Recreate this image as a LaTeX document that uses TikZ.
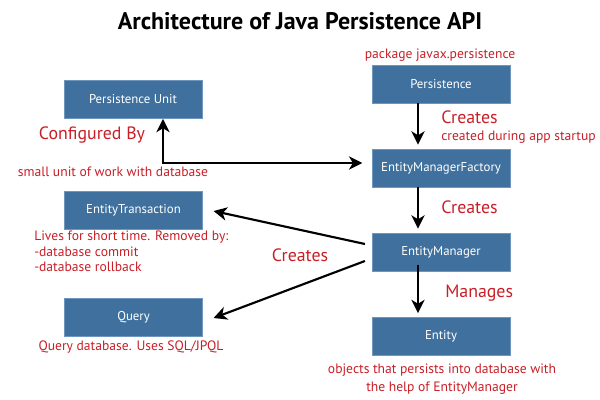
\documentclass[tikz,border=0pt]{standalone}
\usepackage{fontspec}
\setmainfont{PT Sans}
\usetikzlibrary{arrows.meta}
\definecolor{boxblue}{RGB}{64,113,158}
\definecolor{boxedge}{RGB}{110,150,190}
\definecolor{redtxt}{RGB}{200,30,38}
\tikzset{
  bluebox/.style={draw=boxedge, line width=0.6pt, fill=boxblue, text=white, minimum width=103.5pt, minimum height=28.5pt, inner sep=0pt, font=\fontsize{9.6}{11}\selectfont},
  redlbl/.style={text=redtxt, inner sep=0pt, font=\fontsize{10.2}{12}\selectfont},
  biglbl/.style={text=redtxt, inner sep=0pt, font=\fontsize{13.4}{15}\selectfont},
  arr/.style={line width=1.6pt, -{Stealth[length=10pt,width=10pt,inset=3pt]}},
  dblarr/.style={line width=1.6pt, {Stealth[length=10pt,width=10pt,inset=3pt]}-{Stealth[length=10pt,width=10pt,inset=3pt]}}
}
\begin{document}
\begin{tikzpicture}[x=0.75pt,y=-0.75pt]
\useasboundingbox (0,0) rectangle (600,400);
\node[font=\fontsize{18}{20}\selectfont\bfseries] (title) at (300,21) {Architecture of Java Persistence API};

\node[bluebox] (pu) at (133,99.5) {Persistence Unit};
\node[bluebox] (p) at (441,84) {Persistence};
\node[bluebox] (emf) at (441,168) {EntityManagerFactory};
\node[bluebox] (et) at (133.5,210) {EntityTransaction};
\node[bluebox] (em) at (441,252) {EntityManager};
\node[bluebox] (q) at (133.5,317) {Query};
\node[bluebox] (e) at (441,336.5) {Entity};

\node[redlbl] (pkg) at (440,55) {package javax.persistence};
\node[biglbl, anchor=west] (cr1) at (441,117) {Creates};
\node[redlbl, anchor=west] (startup) at (441,137) {created during app startup};
\node[biglbl] (conf) at (92,135) {Configured By};
\node[redlbl] (small) at (113,172) {small unit of work with database};
\node[biglbl, anchor=west] (cr2) at (441,207) {Creates};
\node[redlbl, anchor=north west, align=left, font=\fontsize{10.2}{11.4}\selectfont] (lives) at (34,231) {Lives for short time. Removed by:\\-database commit\\-database rollback};
\node[biglbl] (cr3) at (300,255) {Creates};
\node[biglbl, anchor=west] (man) at (445,293) {Manages};
\node[redlbl] (qd) at (131,347) {Query database. Uses SQL/JPQL};
\node[redlbl, align=center, font=\fontsize{10.2}{13.5}\selectfont] (obj) at (442,379) {objects that persists into database with\\the help of EntityManager};

\coordinate (c1) at (163,163);
\draw[dblarr] (pu.south -| c1) |- ([xshift=-7pt]emf.west |- c1);
\draw[arr, shorten >=3pt] (p.south -| 418,0) -- (emf.north -| 418,0);
\draw[arr, shorten >=3pt] (emf.south -| 418,0) -- (em.north -| 418,0);
\draw[arr, shorten >=3pt] ([yshift=5pt]em.south -| 418,0) -- (e.north -| 418,0);
\draw[arr] ([xshift=-5pt]em.west |- 0,244) -- ([xshift=8pt]et.east |- 0,211);
\draw[arr] ([xshift=-5pt]em.west |- 0,261) -- ([xshift=8pt]q.east |- 0,318);
\end{tikzpicture}
\end{document}
